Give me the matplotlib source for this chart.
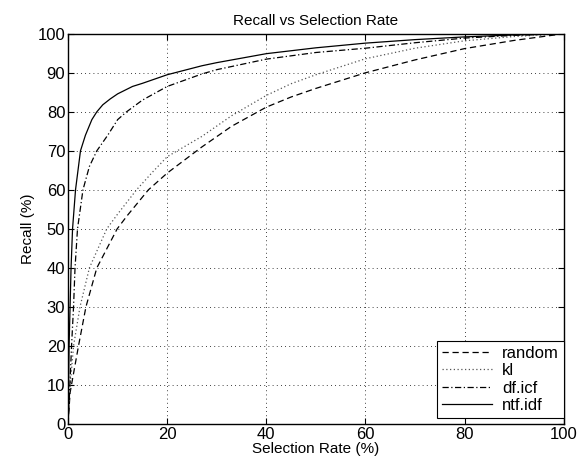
import matplotlib
matplotlib.use("Agg")
import matplotlib.pyplot as plt

plt.rcParams['font.family'] = ['Liberation Sans', 'DejaVu Sans']

# courbes (selection rate %, recall %)
random_x = [0, 0.4, 2.1, 3.6, 5.8, 9.9, 12, 16.2, 20, 27, 33, 40, 45, 50, 60, 70, 80, 90, 100]
random_y = [0, 8, 20, 30, 40, 50, 53.5, 60, 64.3, 71, 76.3, 81.2, 83.8, 86, 90, 93.3, 96.2, 98.3, 100]

kl_x = [0, 0.3, 1.1, 2.4, 4.3, 7.8, 10, 13.8, 17, 20, 27, 33, 40, 45, 50, 60, 70, 80, 90, 100]
kl_y = [0, 8, 20, 30, 40, 50, 53.8, 60, 64.5, 68.5, 73.7, 79, 84.2, 87.2, 89.5, 93.6, 96.3, 98.2, 99.3, 100]

dficf_x = [0, 0.3, 0.7, 1.1, 1.4, 1.9, 3.0, 4.3, 5.8, 8, 10, 11.8, 15, 20, 27, 30, 40, 50, 60, 70, 80, 90, 100]
dficf_y = [0, 8, 20, 30, 40, 50, 60, 66, 70, 74, 78, 80, 83, 86.5, 89.7, 90.8, 93.5, 95.2, 96.3, 97.7, 98.9, 99.6, 100]

ntfidf_x = [0, 0.2, 0.4, 0.6, 0.9, 1.5, 2.5, 3.5, 4.8, 5.8, 7, 8.5, 10, 13, 15, 20, 27, 30, 40, 50, 60, 70, 80, 90, 100]
ntfidf_y = [0, 20, 30, 40, 50, 60, 70, 74, 78, 80, 81.8, 83.3, 84.6, 86.5, 87.3, 89.5, 91.8, 92.6, 94.9, 96.4, 97.6, 98.5, 99.2, 99.7, 100]

fig = plt.figure(figsize=(5.77, 4.69), dpi=100)
ax = fig.add_axes([0.118, 0.096, 0.859, 0.832])

ax.plot(random_x, random_y, color='black', linestyle=(0, (5, 3)), linewidth=0.9, label='random')
ax.plot(kl_x, kl_y, color='#555555', linestyle=(0, (1, 2)), linewidth=0.9, label='kl')
ax.plot(dficf_x, dficf_y, color='black', linestyle=(0, (5, 2, 1, 2)), linewidth=0.9, label='df.icf')
ax.plot(ntfidf_x, ntfidf_y, color='black', linestyle='-', linewidth=0.9, label='ntf.idf')

ax.set_xlim(0, 100)
ax.set_ylim(0, 100)
ax.set_xticks([0, 20, 40, 60, 80, 100])
ax.set_yticks(range(0, 101, 10))
ax.grid(True, color='black', linestyle=(0, (1, 4)), linewidth=0.6)
ax.tick_params(direction='in', top=True, right=True, labelsize=12, length=4, pad=2)
for s in ax.spines.values():
    s.set_linewidth(1.0)

ax.set_title('Recall vs Selection Rate', fontsize=11, pad=6)
ax.set_xlabel('Selection Rate (%)', fontsize=11, labelpad=0)
ax.set_ylabel('Recall (%)', fontsize=11, labelpad=2)

leg = ax.legend(loc='lower right', bbox_to_anchor=(1, 0.015), borderaxespad=0,
                fontsize=12, fancybox=False, framealpha=1, edgecolor='black',
                handlelength=3.0, labelspacing=0.15, borderpad=0.3, handletextpad=0.6)
leg.get_frame().set_linewidth(0.8)

plt.savefig("out.png", dpi=100)
